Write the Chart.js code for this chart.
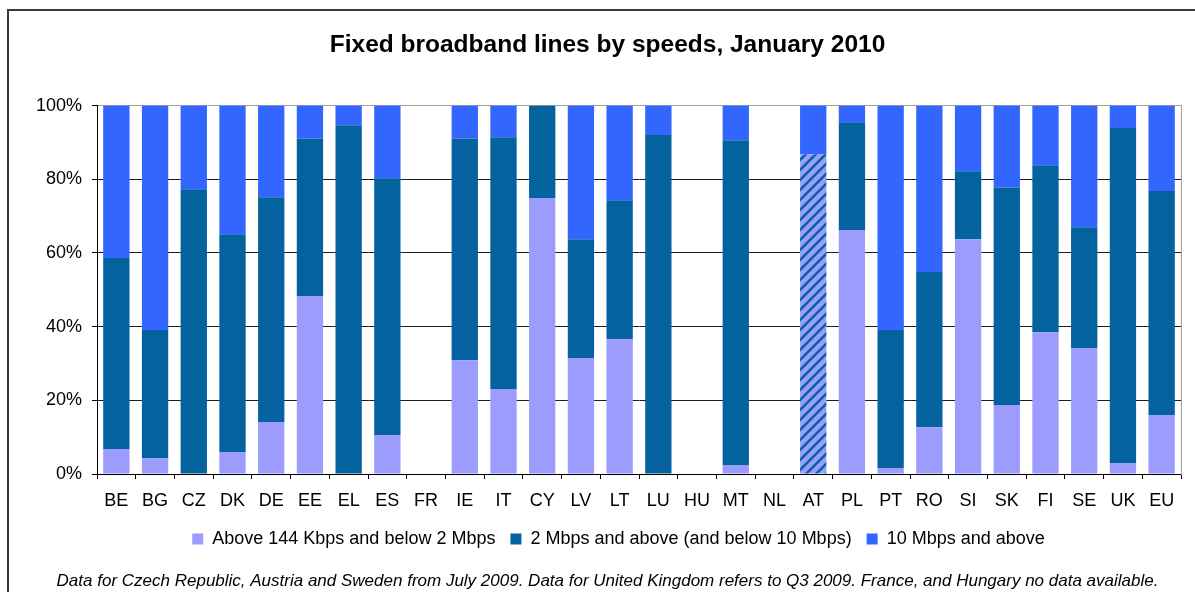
<!DOCTYPE html>
<html>
<head>
<meta charset="utf-8">
<title>Fixed broadband lines by speeds, January 2010</title>
<script src="https://cdn.jsdelivr.net/npm/chart.js@4.4.1/dist/chart.umd.min.js"></script>
<style>
  html, body { margin: 0; padding: 0; background: #fff; overflow: hidden; }
  #frame { position: absolute; left: 7px; top: 9px; width: 1210px; height: 600px; border: 2px solid #3a3a3a; }
  #chart { position: absolute; left: 0; top: 0; }
</style>
</head>
<body>
<div id="frame"></div>
<canvas id="chart" width="1215" height="592"></canvas>
<script>
// share of lines per speed class, % (FR, HU, NL: no data)
const countries = ['BE', 'BG', 'CZ', 'DK', 'DE', 'EE', 'EL', 'ES', 'FR', 'IE', 'IT', 'CY', 'LV', 'LT',
  'LU', 'HU', 'MT', 'NL', 'AT', 'PL', 'PT', 'RO', 'SI', 'SK', 'FI', 'SE', 'UK', 'EU'];
const below2 = [6.8, 4.3, 0, 6.0, 14.1, 48.3, 0, 10.6, null, 30.9, 23.1, 74.9, 31.5, 36.6,
  0, null, 2.3, null, 0, 66.2, 1.6, 12.7, 63.7, 18.7, 38.5, 34.2, 3.0, 16.0];
const from2to10 = [51.8, 34.8, 77.3, 59.1, 61.0, 42.8, 94.7, 69.7, null, 60.2, 68.3, 25.1, 32.2, 37.7,
  92.0, null, 88.3, null, 86.8, 29.3, 37.5, 42.1, 18.5, 59.1, 45.3, 32.8, 90.9, 60.8];
const above10 = [41.4, 60.9, 22.7, 34.9, 24.9, 8.9, 5.3, 19.7, null, 8.9, 8.6, 0, 36.3, 25.7,
  8.0, null, 9.4, null, 13.2, 4.5, 60.9, 45.2, 17.8, 22.2, 16.2, 33.0, 6.1, 23.2];
const yTicks = [0, 20, 40, 60, 80, 100];
// AT only reports everything below 10 Mbps together -> hatched bar
const hatchedCountry = 'AT';

const FONT = '"Liberation Sans", Arial, sans-serif';
const LIGHT = '#9c9cff', DARK = '#04639f', TOP = '#3366ff';

function makeHatch() {
  const c = document.createElement('canvas');
  c.width = 10; c.height = 10;
  const g = c.getContext('2d');
  g.fillStyle = LIGHT;
  g.fillRect(0, 0, 10, 10);
  g.strokeStyle = DARK;
  g.lineWidth = 2.6;
  g.beginPath();
  g.moveTo(-2, 12); g.lineTo(12, -2);
  g.moveTo(-2, 2); g.lineTo(2, -2);
  g.moveTo(8, 12); g.lineTo(12, 8);
  g.stroke();
  return g.createPattern(c, 'repeat');
}
const hatch = makeHatch();
const hatchIdx = countries.indexOf(hatchedCountry);

// the original legend sits a little right of the page centre
const legendNudge = {
  id: 'legendNudge',
  afterLayout(chart) {
    chart.legend.left += 11;
    chart.legend.right += 11;
  }
};

new Chart(document.getElementById('chart'), {
  type: 'bar',
  data: {
    labels: countries,
    datasets: [
      { label: 'Above 144 Kbps and below 2 Mbps', data: below2, backgroundColor: LIGHT },
      { label: '2 Mbps and above (and below 10 Mbps)', data: from2to10,
        backgroundColor: ctx => (ctx.dataIndex === hatchIdx ? hatch : DARK) },
      { label: '10 Mbps and above', data: above10, backgroundColor: TOP }
    ]
  },
  plugins: [legendNudge],
  options: {
    responsive: false,
    animation: false,
    devicePixelRatio: 1,
    datasets: { bar: { barPercentage: 0.68, categoryPercentage: 1, borderWidth: 0 } },
    layout: { padding: 0 },
    scales: {
      x: {
        stacked: true,
        grid: { display: true, drawOnChartArea: false, drawTicks: true, tickLength: 5, color: '#000', offset: true },
        border: { color: '#000', width: 1 },
        ticks: { autoSkip: false, maxRotation: 0, padding: 11, color: '#000', font: { family: FONT, size: 18 } },
        afterFit: s => { s.height = 41; }
      },
      y: {
        stacked: true,
        min: 0,
        max: 100,
        afterBuildTicks: s => { s.ticks = yTicks.map(v => ({ value: v })); },
        grid: {
          color: ctx => (ctx.tick && ctx.tick.value === 100 ? '#a0a0a0' : '#1e1e1e'),
          tickColor: '#000',
          tickLength: 5
        },
        border: { color: '#000', width: 1 },
        ticks: { padding: 10, color: '#000', font: { family: FONT, size: 18 }, callback: v => v + '%' },
        afterFit: s => { s.width = 97; }
      },
      y2: {
        position: 'right',
        grid: { display: false, drawTicks: false },
        ticks: { display: false },
        border: { display: true, color: '#a0a0a0', width: 1 },
        afterFit: s => { s.width = 34; }
      }
    },
    plugins: {
      tooltip: { enabled: false },
      title: {
        display: true,
        text: 'Fixed broadband lines by speeds, January 2010',
        color: '#000',
        font: { family: FONT, size: 24.5, weight: 'bold' },
        padding: { top: 31, bottom: 45.2 }
      },
      legend: {
        position: 'bottom',
        labels: { boxWidth: 11, boxHeight: 11, padding: 15, color: '#000', font: { family: FONT, size: 18 } }
      },
      subtitle: {
        display: true,
        position: 'bottom',
        text: 'Data for Czech Republic, Austria and Sweden from July 2009. Data for United Kingdom refers to Q3 2009. France, and Hungary no data available.',
        color: '#000',
        font: { family: FONT, size: 17, style: 'italic' },
        padding: { top: 13, bottom: 0.6 }
      }
    }
  }
});
</script>
</body>
</html>
